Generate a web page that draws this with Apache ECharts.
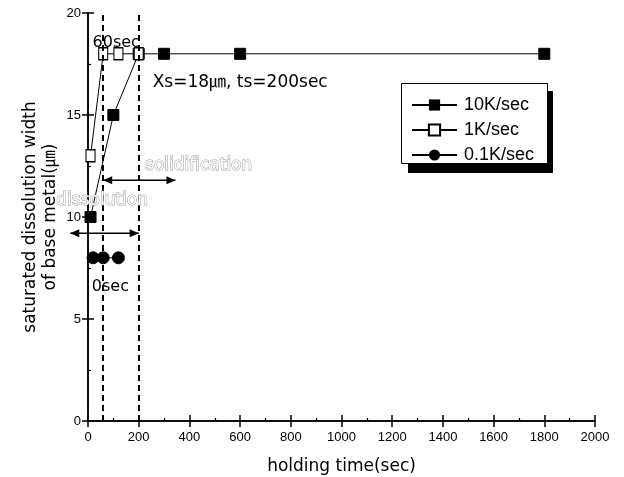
<!DOCTYPE html>
<html><head><meta charset="utf-8">
<script src="https://cdn.jsdelivr.net/npm/echarts@6/dist/echarts.min.js"></script>
<style>html,body{margin:0;padding:0;background:#fff}#c{width:624px;height:477px}</style>
</head><body><div id="c"></div>
<script>
// Data
const rate10K_x = [10, 100, 200, 300, 600, 1800];
const rate10K_y = [10, 15, 18, 18, 18, 18];
const rate1K_x = [10, 60, 120, 200];
const rate1K_y = [13, 18, 18, 18];
const rate01K_x = [20, 60, 120];
const rate01K_y = [8, 8, 8];
const seriesNames = ['10K/sec', '1K/sec', '0.1K/sec'];
const dashedTimes = [60, 200];
const xTicks = [0, 200, 400, 600, 800, 1000, 1200, 1400, 1600, 1800, 2000];
const yTicks = [0, 5, 10, 15, 20];

const pairs = (xs, ys) => xs.map((x, i) => [x, ys[i]]);
const tickFont = { fontFamily: '"Liberation Sans",Arial,sans-serif', fontSize: 13, color: '#000' };
const axisLine = { lineStyle: { color: '#000', width: 1.5 } };

const chart = echarts.init(document.getElementById('c'), null, { renderer: 'canvas' });
const option = {
  animation: false,
  backgroundColor: '#fff',
  grid: { left: 88, right: 29, top: 13, bottom: 56, containLabel: false, outerBoundsMode: 'none' },
  legend: {
    orient: 'vertical', left: 401, top: 83,
    padding: [13, 10, 5, 10], itemGap: 7, itemWidth: 45, itemHeight: 14,
    backgroundColor: 'transparent', borderWidth: 0,
    textStyle: { fontFamily: '"Liberation Sans",Arial,sans-serif', fontSize: 18, color: '#000', padding: [0, 0, 0, 2] },
    data: seriesNames, z: 20
  },
  xAxis: [{
    type: 'value', min: 0, max: 2000, interval: 200, position: 'bottom',
    axisLine: axisLine,
    axisTick: { inside: true, length: 6, lineStyle: { color: '#000', width: 1.5 } },
    minorTick: { show: true, splitNumber: 2, length: 3, lineStyle: { color: '#000', width: 1.2 } },
    splitLine: { show: false },
    axisLabel: Object.assign({ margin: 10, formatter: v => xTicks.includes(v) ? String(v) : '' }, tickFont),
    name: 'holding time(sec)', nameLocation: 'middle', nameGap: 37,
    nameTextStyle: { fontFamily: '"DejaVu Sans",sans-serif', fontSize: 17, color: '#000' }
  }, {
    type: 'value', min: 0, max: 2000, interval: 200, position: 'top',
    axisLine: axisLine,
    axisTick: { inside: true, length: 6, lineStyle: { color: '#000', width: 1.5 } },
    axisLabel: { show: false }, splitLine: { show: false }
  }],
  yAxis: [{
    type: 'value', min: 0, max: 20, interval: 5, position: 'left',
    axisLine: axisLine,
    axisTick: { inside: true, length: 6, lineStyle: { color: '#000', width: 1.5 } },
    minorTick: { show: true, splitNumber: 2, length: 3, lineStyle: { color: '#000', width: 1.2 } },
    splitLine: { show: false },
    axisLabel: Object.assign({ margin: 7, formatter: v => yTicks.includes(v) ? String(v) : '' }, tickFont),
    name: 'saturated dissolution width\nof base metal(㎛)', nameLocation: 'middle', nameGap: 27, nameRotate: 90,
    nameMoveOverlap: false,
    nameTextStyle: { fontFamily: '"DejaVu Sans","Noto Sans CJK KR",sans-serif', fontSize: 17, color: '#000', lineHeight: 20 }
  }, {
    type: 'value', min: 0, max: 20, interval: 5, position: 'right',
    axisLine: axisLine,
    axisTick: { inside: true, length: 6, lineStyle: { color: '#000', width: 1.5 } },
    axisLabel: { show: false }, splitLine: { show: false }
  }],
  series: [{
    name: seriesNames[0], type: 'line', data: pairs(rate10K_x, rate10K_y),
    symbol: 'rect', symbolSize: 11, clip: false,
    lineStyle: { color: '#000', width: 1 }, itemStyle: { color: '#000', borderColor: '#000' },
    markLine: {
      silent: true, symbol: ['none', 'none'], label: { show: false },
      lineStyle: { color: '#000', width: 2, type: [6, 4] },
      data: dashedTimes.map(t => ({ xAxis: t }))
    },
    z: 3
  }, {
    name: seriesNames[1], type: 'line', data: pairs(rate1K_x, rate1K_y),
    symbol: 'rect', symbolSize: [9, 12], clip: false,
    lineStyle: { color: '#000', width: 1 }, itemStyle: { color: '#fff', borderColor: '#000', borderWidth: 1.2 },
    z: 4
  }, {
    name: seriesNames[2], type: 'line', data: pairs(rate01K_x, rate01K_y),
    symbol: 'circle', symbolSize: 12, clip: false,
    lineStyle: { color: '#000', width: 1 }, itemStyle: { color: '#000', borderColor: '#000' },
    z: 3
  }]
};
chart.setOption(option);

function P(x, y) { return chart.convertToPixel({ gridIndex: 0 }, [x, y]); }
function arrow(x1, x2, y, leftHead, rightHead) {
  const a = P(x1, y), b = P(x2, y);
  const els = [{ type: 'line', shape: { x1: a[0], y1: a[1], x2: b[0], y2: b[1] }, style: { stroke: '#000', lineWidth: 1.5 }, z: 10 }];
  if (leftHead) els.push({ type: 'polygon', shape: { points: [[a[0], a[1]], [a[0] + 9, a[1] - 4], [a[0] + 9, a[1] + 4]] }, style: { fill: '#000' }, z: 10 });
  if (rightHead) els.push({ type: 'polygon', shape: { points: [[b[0], b[1]], [b[0] - 9, b[1] - 4], [b[0] - 9, b[1] + 4]] }, style: { fill: '#000' }, z: 10 });
  return els;
}
function label(txt, x, y, style) {
  const p = P(x, y);
  return { type: 'text', x: p[0], y: p[1], z: 11, style: Object.assign({ text: txt, fill: '#000', font: '16px "DejaVu Sans", "Noto Sans CJK KR", sans-serif', verticalAlign: 'middle' }, style || {}) };
}
const graphics = [].concat(
  [
    { type: 'rect', shape: { x: 408, y: 91, width: 145, height: 82 }, style: { fill: '#000' }, z: 12 },
    { type: 'rect', shape: { x: 401.5, y: 83.5, width: 146, height: 80 }, style: { fill: '#fff', stroke: '#000', lineWidth: 1 }, z: 13 }
  ],
  arrow(60, 345, 11.8, true, true),
  arrow(-70, 200, 9.2, true, true),
  [
    label('60sec', 18, 18.55),
    label('0sec', 15, 6.6),
    label('Xs=18㎛, ts=200sec', 255, 16.6, { font: '17px "DejaVu Sans", "Noto Sans CJK KR", sans-serif' }),
    label('solidification', 225, 12.5, { fill: '#fff', stroke: '#999', lineWidth: 1, font: '17px "DejaVu Sans", sans-serif' }),
    label('dissolution', -125, 10.8, { fill: '#fff', stroke: '#999', lineWidth: 1, font: '17px "DejaVu Sans", sans-serif' })
  ]
);
chart.setOption({ graphic: graphics.map(g => Object.assign({ silent: true }, g)) });
</script></body></html>
